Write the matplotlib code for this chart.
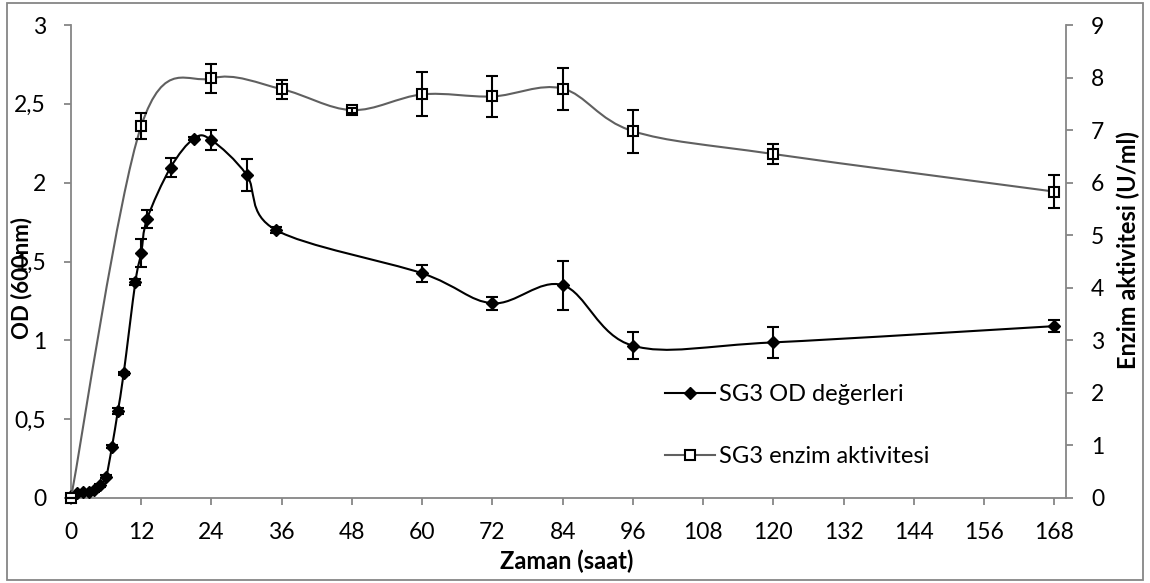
import numpy as np
import matplotlib
matplotlib.use("Agg")
import matplotlib.pyplot as plt
from matplotlib.path import Path
from matplotlib.patches import PathPatch, Rectangle
from matplotlib.lines import Line2D

# ---------------- data ----------------
time_od = [0, 1, 2, 3, 4, 5, 6, 7, 8, 9, 11, 12, 13, 17, 21, 24, 30, 35, 60, 72, 84, 96, 120, 168]
od_values = [0.01, 0.03, 0.035, 0.035, 0.05, 0.08, 0.135, 0.325, 0.55, 0.79, 1.37, 1.555, 1.77,
             2.095, 2.28, 2.27, 2.05, 1.70, 1.425, 1.235, 1.35, 0.966, 0.987, 1.09]
od_err = [0.01, 0.01, 0.01, 0.01, 0.01, 0.01, 0.01, 0.01, 0.02, 0.01, 0.02, 0.09, 0.055,
          0.06, 0.01, 0.065, 0.10, 0.02, 0.055, 0.04, 0.155, 0.085, 0.097, 0.04]

time_enz = [0, 12, 24, 36, 48, 60, 72, 84, 96, 120, 168]
enz_values = [0.0, 7.08, 7.985, 7.78, 7.38, 7.68, 7.64, 7.79, 6.98, 6.545, 5.83]
enz_err = [0.0, 0.25, 0.28, 0.18, 0.05, 0.42, 0.39, 0.40, 0.41, 0.19, 0.32]

x_ticks = list(range(0, 169, 12))
left_ticks = [0, 0.5, 1, 1.5, 2, 2.5, 3]
left_tick_labels = ["0", "0,5", "1", "1,5", "2", "2,5", "3"]
right_ticks = list(range(0, 10))

series_labels = ["SG3 OD değerleri", "SG3 enzim aktivitesi"]
x_label = "Zaman (saat)"
y_left_label = "OD (600nm)"
y_right_label = "Enzim aktivitesi (U/ml)"

# ---------------- style ----------------
plt.rcParams['font.family'] = ['Lato', 'DejaVu Sans']
FS = 17
TFS = 16.5
AXC = '#868686'
ENZC = '#606060'

W, H = 1150, 583
fig = plt.figure(figsize=(W / 100, H / 100), dpi=100)
ax = fig.add_axes([71 / W, 1 - 498 / H, 995 / W, 473 / H])
ax2 = ax.twinx()


def smooth_path(x, y):
    pts = np.column_stack([x, y]).astype(float)
    n = len(pts)
    verts = [pts[0]]
    codes = [Path.MOVETO]
    for i in range(n - 1):
        p0 = pts[i - 1] if i > 0 else pts[i]
        p1 = pts[i]
        p2 = pts[i + 1]
        p3 = pts[i + 2] if i + 2 < n else pts[i + 1]
        c1 = p1 + (p2 - p0) / 6.0
        c2 = p2 - (p3 - p1) / 6.0
        verts += [c1, c2, p2]
        codes += [Path.CURVE4] * 3
    return Path(verts, codes)


# OD series (left axis)
ax.add_patch(PathPatch(smooth_path(time_od, od_values), fill=False, edgecolor='black',
                       lw=1.5, zorder=2))
eb = ax.errorbar(time_od, od_values, yerr=od_err, fmt='none', ecolor='black', elinewidth=1.5,
                 capsize=4.3, capthick=1.5, zorder=3)
for art in eb.lines[1] + eb.lines[2]:
    art.set_clip_on(False)
ax.plot(time_od, od_values, linestyle='none', marker='D', ms=6.5, mfc='black', mec='black',
        zorder=4, clip_on=False)

# Enzyme series (right axis)
ax2.add_patch(PathPatch(smooth_path(time_enz, enz_values), fill=False, edgecolor=ENZC,
                        lw=1.5, zorder=2))
ax2.plot(time_enz, enz_values, linestyle='none', marker='s', ms=7.5, mfc='white', mec='black',
         mew=1.5, zorder=3, clip_on=False)
eb2 = ax2.errorbar(time_enz, enz_values, yerr=enz_err, fmt='none', ecolor='black',
                   elinewidth=1.5, capsize=4.3, capthick=1.5, zorder=4)
for art in eb2.lines[1] + eb2.lines[2]:
    art.set_clip_on(False)

# axes limits / ticks
ax.set_xlim(0, 170)
ax.set_ylim(0, 3)
ax2.set_ylim(0, 9)
ax.set_xticks(x_ticks)
ax.set_xticklabels([str(t) for t in x_ticks])
ax.set_yticks(left_ticks)
ax.set_yticklabels(left_tick_labels)
ax2.set_yticks(right_ticks)
ax2.set_yticklabels([str(t) for t in right_ticks])

for a in (ax, ax2):
    for s in a.spines.values():
        s.set_visible(False)
    a.patch.set_visible(False)
ax.spines['left'].set_visible(True)
ax.spines['bottom'].set_visible(True)
ax2.spines['right'].set_visible(True)
for s in (ax.spines['left'], ax.spines['bottom'], ax2.spines['right']):
    s.set_color(AXC)
    s.set_linewidth(1.3)
    s.set_zorder(1)

ax.tick_params(axis='x', direction='out', length=5, width=1.3, color=AXC, labelsize=TFS,
               pad=12, labelcolor='black')
ax.tick_params(axis='y', direction='out', length=5, width=1.3, color=AXC, labelsize=TFS,
               pad=13, labelcolor='black')
ax2.tick_params(axis='y', direction='out', length=5, width=1.3, color=AXC, labelsize=TFS,
                pad=13, labelcolor='black')

# axis titles
fig.text(567 / W, 1 - 561 / H, x_label, ha='center', va='center',
         fontsize=FS, fontweight='bold')
fig.text(22 / W, 1 - 278 / H, y_left_label, rotation=90, ha='center', va='center',
         fontsize=16, fontweight='bold')
fig.text(1128 / W, 1 - 250 / H, y_right_label, rotation=90, ha='center', va='center',
         fontsize=FS, fontweight='bold')

# legend
handles = [
    Line2D([], [], color='black', lw=1.5, marker='D', ms=6.5, mfc='black', mec='black'),
    Line2D([], [], color=ENZC, lw=1.5, marker='s', ms=7.5, mfc='white', mec='black', mew=1.5),
]
fig.legend(handles, series_labels, loc='upper left', bbox_to_anchor=(665 / W, 1 - 384 / H),
           frameon=False, fontsize=FS, handlelength=2.1, handletextpad=0.2,
           labelspacing=1.75, borderpad=0, borderaxespad=0, numpoints=1)

# outer chart border
fig.add_artist(Rectangle((7 / W, 3 / H), (1143 - 7) / W, (580 - 3) / H,
                         transform=fig.transFigure, fill=False, edgecolor=AXC, lw=1.3))

fig.savefig('out.png', dpi=100)
